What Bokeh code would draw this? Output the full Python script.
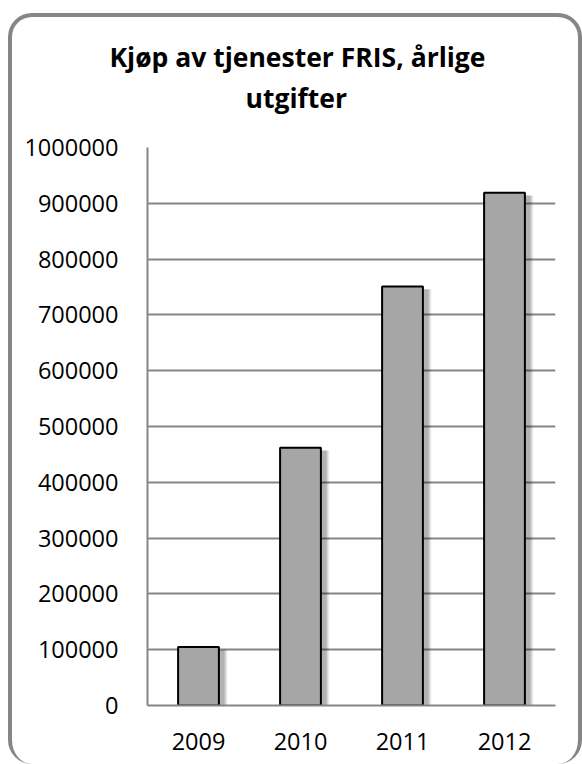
from bokeh.plotting import figure
from bokeh.layouts import column
from bokeh.models import ColumnDataSource, FactorRange, Range1d, FixedTicker, NumeralTickFormatter, Title
from bokeh.transform import dodge
from bokeh.embed import file_html
from bokeh.resources import INLINE

years = ["2009", "2010", "2011", "2012"]
expenses = [105000, 462000, 751000, 919000]
y_ticks = [0, 100000, 200000, 300000, 400000, 500000, 600000, 700000, 800000, 900000, 1000000]
title_line1 = "Kjøp av tjenester FRIS, årlige"
title_line2 = "utgifter"

FONT = "Open Sans"

p = figure(x_range=FactorRange(*years, range_padding=0), y_range=Range1d(0, 1000000),
           width=566, height=747, output_backend="svg", toolbar_location=None,
           min_border_left=135, min_border_right=23, min_border_top=130, min_border_bottom=59,
           title=None)
p.border_fill_color = None
p.background_fill_color = None

src = ColumnDataSource(dict(x=years, top=expenses,
                            shadow_top=[v - 5000 for v in expenses]))

# soft shadow layers
for w, a in [(0.48, 0.05), (0.46, 0.07), (0.44, 0.09), (0.42, 0.12)]:
    p.vbar(x=dodge("x", 0.045, range=p.x_range), top="shadow_top", bottom=-8000, width=w,
           source=src, fill_color="black", fill_alpha=a, line_color=None)

p.vbar(x="x", top="top", width=0.4, source=src, fill_color="#a6a6a6",
       line_color="black", line_width=2)

for txt, off, so in [(title_line2, 98, 64), (title_line1, -38, -58)]:
    t = Title(text=txt, align="left", offset=off, text_font=FONT,
              text_font_size="26.5px", text_font_style="bold", text_color="black",
              standoff=so)
    p.add_layout(t, "above")

p.xgrid.grid_line_color = None
p.ygrid.grid_line_color = "#868686"
p.ygrid.grid_line_width = 2
p.yaxis.ticker = FixedTicker(ticks=y_ticks)
p.yaxis.formatter = NumeralTickFormatter(format="0")
p.yaxis.major_tick_line_color = None
p.yaxis.minor_tick_line_color = None
p.xaxis.major_tick_line_color = None
p.xaxis.minor_tick_line_color = None
p.axis.axis_line_color = "#868686"
p.axis.axis_line_width = 2
p.axis.major_label_text_font = FONT
p.axis.major_label_text_font_size = "23.5px"
p.axis.major_label_text_color = "black"
p.yaxis.major_label_standoff = 23
p.xaxis.major_label_standoff = 21
p.outline_line_color = None

layout = column(p, styles={"margin-left": "8px", "margin-top": "13px",
                           "border": "4px solid #868686", "border-bottom": "none",
                           "border-radius": "24px", "overflow": "hidden"})

open("out.html", "w").write(file_html(layout, INLINE))
